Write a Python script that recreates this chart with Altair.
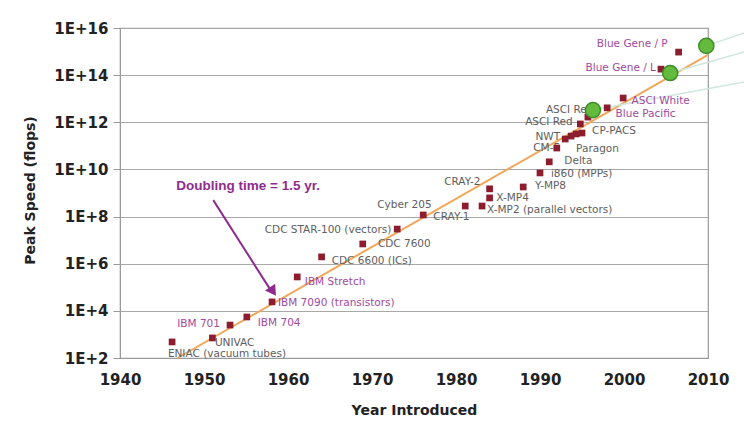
import altair as alt
import pandas as pd

# ---- machines: year introduced and peak speed (flops) ----
years = [1946.2, 1951.0, 1953.1, 1955.1, 1958.1, 1961.1, 1964.0, 1968.9, 1973.0,
         1976.1, 1981.1, 1983.1, 1984.0, 1984.0, 1988.0, 1990.0, 1991.1, 1992.0,
         1993.0, 1993.7, 1994.3, 1995.0, 1994.8, 1995.7, 1998.0, 1999.9, 2004.4, 2006.5]
flops = [4.8e2, 7.1e2, 2.5e3, 5.5e3, 2.4e4, 2.75e5, 1.95e6, 6.9e6, 2.95e7,
         1.17e8, 2.8e8, 2.8e8, 6.2e8, 1.5e9, 1.8e9, 7.1e9, 2.1e10, 8.1e10,
         1.95e11, 2.6e11, 3.2e11, 3.5e11, 8.5e11, 1.66e12, 4.1e12, 1.07e13, 1.8e14, 9.5e14]

# highlighted systems (green circles)
hi_years = [1996.3, 2005.5, 2009.8]
hi_flops = [3.3e12, 1.23e14, 1.74e15]

# connector lines leaving the highlighted systems to the right
conn_years_end = [2014.3, 2014.3, 2014.3]
conn_flops_end = [5.1e13, 9.6e14, 6.2e15]

# trend line: doubling time of 1.5 years
trend_years = [1946.85, 2010.0]
trend_flops = [1.0e2, 7.3e14]

# labels anchored at their left edge
left_text = ["ENIAC (vacuum tubes)", "UNIVAC", "IBM 704", "IBM 7090 (transistors)",
             "IBM Stretch", "CDC 6600 (ICs)", "CDC 7600", "CRAY-1", "X-MP4",
             "X-MP2 (parallel vectors)", "Y-MP8", "i860 (MPPs)", "Delta", "Paragon",
             "CP-PACS", "ASCI Red", "ASCI White", "Blue Pacific"]
left_year = [1945.7, 1951.3, 1956.4, 1958.8, 1962.0, 1965.2, 1970.7, 1977.3, 1984.8,
             1983.7, 1989.4, 1991.3, 1992.9, 1994.3, 1996.2, 1990.7, 2000.9, 1999.0]
left_flops = [1.48e2, 4.3e2, 3.0e3, 2.1e4, 1.66e5, 1.3e6, 6.9e6, 9.5e7, 6.2e8,
              1.9e8, 2.0e9, 6.5e9, 2.3e10, 7.4e10, 4.3e11, 3.3e12, 7.9e12, 2.2e12]
left_family = ["other", "other", "ibm", "ibm", "ibm", "other", "other", "other", "other",
               "other", "other", "other", "other", "other", "other", "other", "ibm", "ibm"]

# labels anchored at their right edge
right_text = ["IBM 701", "CDC STAR-100 (vectors)", "Cyber 205", "CRAY-2", "CM-5", "NWT",
              "ASCI Red", "Blue Gene / L", "Blue Gene / P"]
right_year = [1951.9, 1972.3, 1977.1, 1982.9, 1992.4, 1992.4, 1993.9, 2003.8, 2005.2]
right_flops = [2.75e3, 2.7e7, 3.1e8, 2.95e9, 8.1e10, 2.4e11, 1.02e12, 2.0e14, 2.1e15]
right_family = ["ibm", "other", "other", "other", "other", "other", "other", "ibm", "ibm"]

# annotation and its arrow
note_text = ["Doubling time = 1.5 yr."]
note_year = [1946.7]
note_flops = [2.0e9]
arrow_years = [1951.1, 1957.8]
arrow_flops = [5.0e8, 9.0e4]
head_year = [1958.1]
head_flops = [7.7e4]

# axis ticks
year_ticks = [1940, 1950, 1960, 1970, 1980, 1990, 2000, 2010]
flops_ticks = [1e2, 1e4, 1e6, 1e8, 1e10, 1e12, 1e14, 1e16]

FONT = "DejaVu Sans"
NOTE_FONT = "Liberation Sans"
PURPLE = "#8E2C8E"
LABEL_PURPLE = "#A04AA0"
LABEL_GREY = "#5E5E5E"

xscale = alt.Scale(domain=[1940, 2010], nice=False, zero=False)
yscale = alt.Scale(type="log", domain=[1e2, 1e16], nice=False)

x_axis = alt.Axis(values=year_ticks, format="d", title="Year Introduced",
                  labelFont=FONT, labelFontWeight="bold", labelFontSize=15,
                  labelColor="#222222", labelPadding=14, labelFlush=False, ticks=False,
                  domainColor="#9a9a9a", grid=False,
                  titleFont=FONT, titleFontWeight="bold", titleFontSize=14,
                  titleColor="#222222", titleX=294, titleY=52, titleBaseline="middle")
y_axis = alt.Axis(values=flops_ticks, labelExpr="'1E+' + round(log(datum.value) / LN10)",
                  title="Peak Speed (flops)",
                  labelFont=FONT, labelFontWeight="bold", labelFontSize=15,
                  labelColor="#222222", labelPadding=5, labelFlush=False,
                  tickSize=7, tickColor="#9a9a9a",
                  domainColor="#9a9a9a", grid=True, gridColor="#a8a8a8",
                  titleFont=FONT, titleFontWeight="bold", titleFontSize=14,
                  titleColor="#222222", titleX=-90, titleY=162, titleBaseline="middle",
                  titleAngle=-90)


def xy(xname, yname):
    # every layer shares the same scales and axis definitions
    return dict(
        x=alt.X(f"{xname}:Q", scale=xscale, axis=x_axis),
        y=alt.Y(f"{yname}:Q", scale=yscale, axis=y_axis),
    )


machines = pd.DataFrame({"year": years, "flops": flops})
highlights = pd.DataFrame({"year": hi_years, "flops": hi_flops,
                           "year2": conn_years_end, "flops2": conn_flops_end})
trend = pd.DataFrame({"year": trend_years, "flops": trend_flops})
left_df = pd.DataFrame({"year": left_year, "flops": left_flops, "label": left_text,
                        "family": left_family})
right_df = pd.DataFrame({"year": right_year, "flops": right_flops, "label": right_text,
                         "family": right_family})
note_df = pd.DataFrame({"year": note_year, "flops": note_flops, "label": note_text})
arrow_df = pd.DataFrame({"year": arrow_years, "flops": arrow_flops})
head_df = pd.DataFrame({"year": head_year, "flops": head_flops})

family_color = alt.Color("family:N", scale=alt.Scale(domain=["ibm", "other"],
                                                     range=[LABEL_PURPLE, LABEL_GREY]),
                         legend=None)

connectors = alt.Chart(highlights).mark_rule(color="#cfe7dd", strokeWidth=1.5).encode(
    **xy("year", "flops"), x2="year2:Q", y2="flops2:Q")

trend_line = alt.Chart(trend).mark_line(color="#F2A65A", strokeWidth=2).encode(
    **xy("year", "flops"))

left_labels = alt.Chart(left_df).mark_text(align="left", baseline="middle", font=FONT,
                                           fontSize=10.5).encode(
    **xy("year", "flops"), text="label:N", color=family_color)

right_labels = alt.Chart(right_df).mark_text(align="right", baseline="middle", font=FONT,
                                             fontSize=10.5).encode(
    **xy("year", "flops"), text="label:N", color=family_color)

points = alt.Chart(machines).mark_point(shape="square", filled=True, size=45,
                                        color="#8C1D2E", opacity=1).encode(
    **xy("year", "flops"))

circles = alt.Chart(highlights).mark_point(shape="circle", filled=True, size=230,
                                           fill="#63BA3C", stroke="#3E8E2C",
                                           strokeWidth=1.5, opacity=1).encode(
    **xy("year", "flops"))

note = alt.Chart(note_df).mark_text(align="left", baseline="middle", font=NOTE_FONT,
                                    fontSize=13.5, fontWeight="bold", color=PURPLE).encode(
    **xy("year", "flops"), text="label:N")

arrow = alt.Chart(arrow_df).mark_line(color=PURPLE, strokeWidth=2).encode(
    **xy("year", "flops"))

head = alt.Chart(head_df).mark_point(shape="triangle", filled=True, size=150, angle=146.5,
                                     color=PURPLE, opacity=1).encode(
    **xy("year", "flops"))

chart = alt.layer(
    trend_line, connectors, left_labels, right_labels, points, circles, note, arrow, head
).properties(
    width=588, height=330,
    autosize=alt.AutoSizeParams(type="none"),
    padding={"left": 120, "top": 28, "right": 36, "bottom": 76},
    background="white",
).configure_view(stroke="#9a9a9a", strokeWidth=1.2)

chart.save("out.html", embed_options={"renderer": "svg", "actions": False})
